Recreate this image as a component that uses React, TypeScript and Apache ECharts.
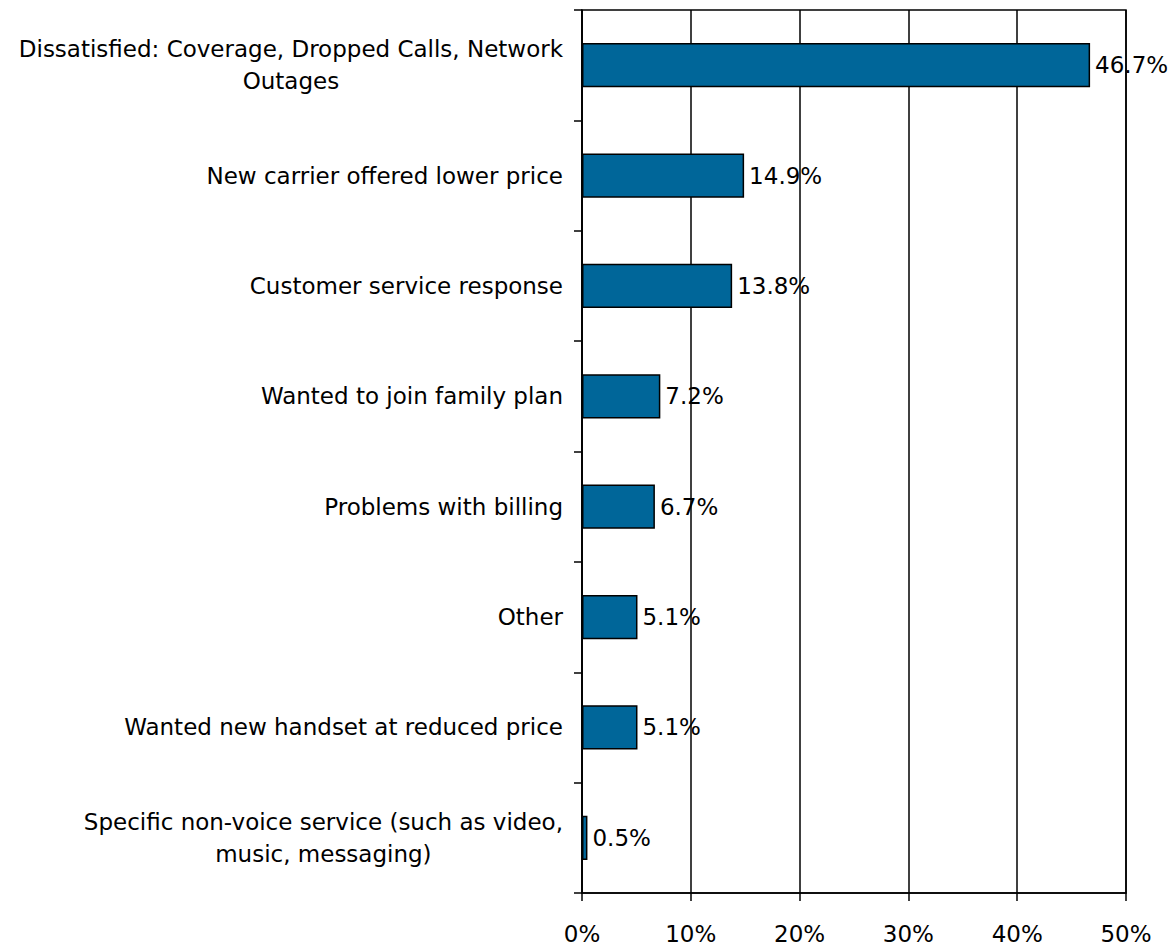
import React, { useEffect, useRef } from "react";
import * as echarts from "echarts";

const categories: string[] = [
  "Dissatisfied: Coverage, Dropped Calls, Network\nOutages",
  "New carrier offered lower price",
  "Customer service response",
  "Wanted to join family plan",
  "Problems with billing",
  "Other",
  "Wanted new handset at reduced price",
  "Specific non-voice service (such as video,\nmusic, messaging)",
];

const values: number[] = [46.7, 14.9, 13.8, 7.2, 6.7, 5.1, 5.1, 0.5];

const xTicks = { min: 0, max: 50, interval: 10 };

const FONT = "DejaVu Sans";
const FS = 23;

export default function App() {
  const ref = useRef<HTMLDivElement>(null);
  useEffect(() => {
    document.body.style.margin = "0";
    if (!ref.current) return;
    const chart = echarts.init(ref.current, null, { renderer: "svg" });
    chart.setOption({
      animation: false,
      backgroundColor: "#ffffff",
      textStyle: { fontFamily: FONT },
      grid: {
        left: 582,
        right: 48,
        top: 10,
        bottom: 54,
        show: true,
        borderColor: "#000",
        borderWidth: 1.5,
        containLabel: false,
      },
      xAxis: {
        type: "value",
        min: xTicks.min,
        max: xTicks.max,
        interval: xTicks.interval,
        axisLine: { show: true, lineStyle: { color: "#000", width: 1.5 } },
        axisTick: { show: true, length: 8, lineStyle: { color: "#000", width: 1.5 } },
        splitLine: { show: true, lineStyle: { color: "#000", width: 1.5 } },
        axisLabel: {
          formatter: (v: number) => `${v}%`,
          fontSize: FS,
          fontFamily: FONT,
          color: "#000",
          margin: 29,
        },
      },
      yAxis: {
        type: "category",
        inverse: true,
        data: categories,
        axisLine: { show: true, lineStyle: { color: "#000", width: 1.5 } },
        axisTick: { show: true, length: 8, lineStyle: { color: "#000", width: 1.5 } },
        axisLabel: {
          fontSize: FS,
          fontFamily: FONT,
          color: "#000",
          margin: 19,
          align: "right",
          lineHeight: 32,
          formatter: (v: string) =>
            v
              .split("\n")
              .map((l) => `{c|${l}}`)
              .join("\n"),
          rich: {
            c: {
              align: "center",
              fontSize: FS,
              fontFamily: FONT,
              color: "#000",
              lineHeight: 32,
            },
          },
        },
      },
      series: [
        {
          type: "bar",
          data: values,
          barWidth: "40%",
          itemStyle: { color: "#006699", borderColor: "#000", borderWidth: 1.5 },
          label: {
            show: true,
            position: "right",
            distance: 5,
            formatter: (p: any) => `${p.value.toFixed(1)}%`,
            fontSize: FS,
            fontFamily: FONT,
            color: "#000",
          },
        },
      ],
    });
    return () => chart.dispose();
  }, []);
  return <div ref={ref} style={{ width: 1174, height: 947 }} />;
}
